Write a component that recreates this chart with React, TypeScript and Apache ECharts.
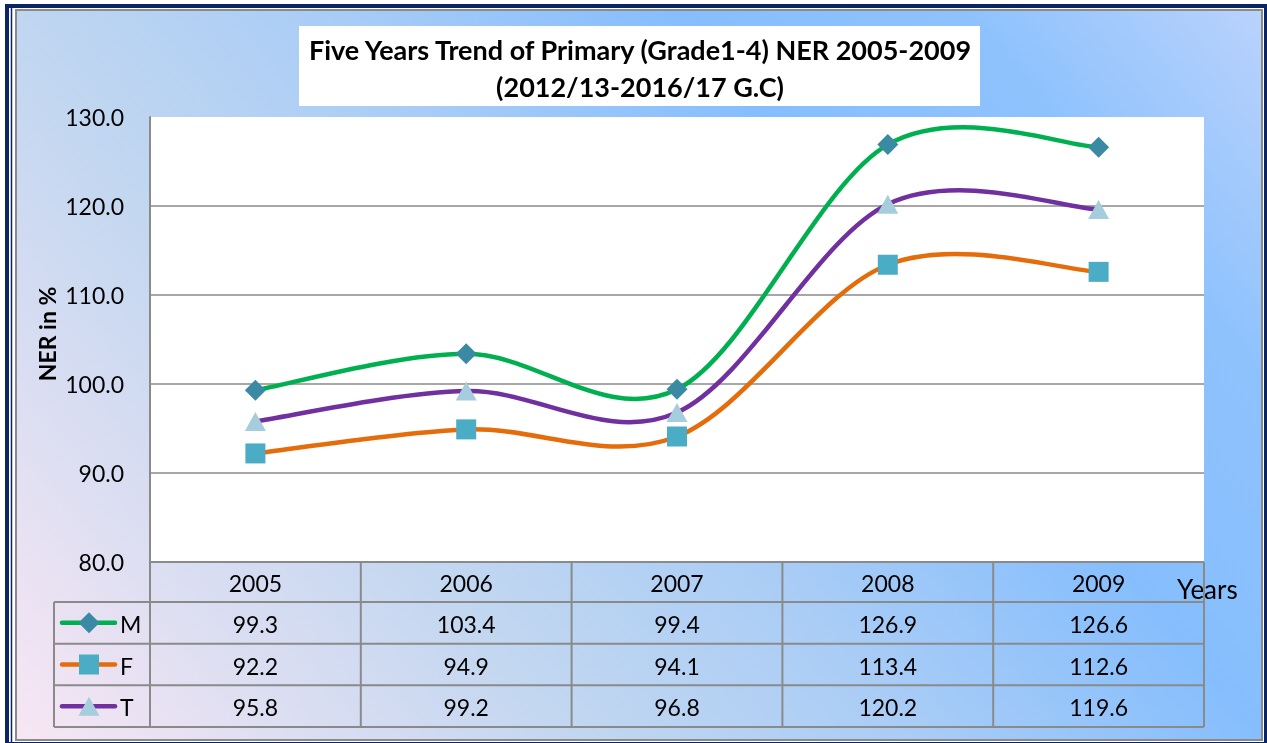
import React, { useEffect, useRef } from "react";
import * as echarts from "echarts";

const YEARS = ["2005", "2006", "2007", "2008", "2009"];
const M_VALUES = [99.3, 103.4, 99.4, 126.9, 126.6];
const F_VALUES = [92.2, 94.9, 94.1, 113.4, 112.6];
const T_VALUES = [95.8, 99.2, 96.8, 120.2, 119.6];
const Y_TICKS_MIN = 80;
const Y_TICKS_MAX = 130;
const Y_TICKS_INTERVAL = 10;
const TITLE_LINES = ["Five Years Trend of Primary (Grade1-4) NER 2005-2009", "(2012/13-2016/17 G.C)"];

const W = 1267;
const H = 743;
const GRID_L = 150;
const GRID_R = 1204;
const GRID_T = 117;
const GRID_B = 562;
const FONT = "Lato, 'Open Sans', sans-serif";
const GRAY = "#8a8a8a";

const STYLES = [
  { name: "M", values: M_VALUES, line: "#00b050", marker: "#3b8aa3", symbol: "diamond", size: [21, 21] },
  { name: "F", values: F_VALUES, line: "#e46c0a", marker: "#4bacc6", symbol: "rect", size: [20, 20] },
  { name: "T", values: T_VALUES, line: "#7030a0", marker: "#a6cddb", symbol: "triangle", size: [21, 19] },
];

function smoothPath(pts: number[][]) {
  const n = pts.length;
  let d = `M${pts[0][0]},${pts[0][1]}`;
  for (let i = 0; i < n - 1; i++) {
    const p0 = pts[Math.max(i - 1, 0)];
    const p1 = pts[i];
    const p2 = pts[i + 1];
    const p3 = pts[Math.min(i + 2, n - 1)];
    const c1x = p1[0] + (p2[0] - p0[0]) / 6;
    const c1y = p1[1] + (p2[1] - p0[1]) / 6;
    const c2x = p2[0] - (p3[0] - p1[0]) / 6;
    const c2y = p2[1] - (p3[1] - p1[1]) / 6;
    d += ` C${c1x},${c1y} ${c2x},${c2y} ${p2[0]},${p2[1]}`;
  }
  return d;
}

function markerShape(symbol: string, cx: number, cy: number, color: string) {
  if (symbol === "diamond") {
    return { type: "polygon", shape: { points: [[cx, cy - 10.5], [cx + 10.5, cy], [cx, cy + 10.5], [cx - 10.5, cy]] }, style: { fill: color } };
  }
  if (symbol === "rect") {
    return { type: "rect", shape: { x: cx - 10, y: cy - 10, width: 20, height: 20 }, style: { fill: color } };
  }
  return { type: "polygon", shape: { points: [[cx, cy - 9.5], [cx + 10.5, cy + 9.5], [cx - 10.5, cy + 9.5]] }, style: { fill: color } };
}

function buildGraphics() {
  const els: any[] = [];
  // frame
  els.push({ type: "rect", z: -20, shape: { x: 5, y: 4, width: W - 5, height: H - 4 }, style: { fill: "#0b2466" } });
  els.push({ type: "rect", z: -19, shape: { x: 9, y: 8, width: 1255, height: 734 }, style: { fill: "#ffffff" } });
  els.push({ type: "line", z: -18, shape: { x1: 11.5, y1: 8, x2: 11.5, y2: 742 }, style: { stroke: "#0b2466", lineWidth: 1.5 } });
  els.push({
    type: "rect",
    z: -17,
    shape: { x: 16, y: 10, width: 1246, height: 730 },
    style: {
      fill: new echarts.graphic.LinearGradient(0, 1, 1.2, 0.43, [
        { offset: 0, color: "#f8e6f4" },
        { offset: 0.3, color: "#c3d7f0" },
        { offset: 0.5, color: "#a8ccf6" },
        { offset: 0.68, color: "#86befd" },
        { offset: 0.84, color: "#8ec2fd" },
        { offset: 1, color: "#b9d2fc" },
      ]),
      stroke: GRAY,
      lineWidth: 2,
    },
  });
  // title
  els.push({ type: "rect", shape: { x: 299, y: 26, width: 681, height: 80 }, style: { fill: "#ffffff" } });
  TITLE_LINES.forEach((t, i) => {
    els.push({
      type: "text",
      x: 640,
      y: 49 + i * 37,
      style: { text: t, font: `bold 27px ${FONT}`, fill: "#000", textAlign: "center", textVerticalAlign: "middle" },
    });
  });
  // axis title
  els.push({
    type: "text",
    x: 47,
    y: 334,
    rotation: Math.PI / 2,
    style: { text: "NER in %", font: `bold 23px ${FONT}`, fill: "#000", textAlign: "center", textVerticalAlign: "middle" },
  });
  els.push({
    type: "text",
    x: 1177,
    y: 589,
    style: { text: "Years", font: `26px ${FONT}`, fill: "#000", textAlign: "left", textVerticalAlign: "middle" },
  });
  // data table
  const n = YEARS.length;
  const colW = (GRID_R - GRID_L) / n;
  const headerB = 602;
  const rowH = (727 - headerB) / 3;
  const legendL = 54;
  const lineStyle = { stroke: GRAY, lineWidth: 2 };
  els.push({ type: "line", shape: { x1: GRID_L, y1: GRID_B, x2: GRID_R, y2: GRID_B }, style: lineStyle });
  for (let r = 0; r <= 3; r++) {
    const y = headerB + r * rowH;
    els.push({ type: "line", shape: { x1: legendL, y1: y, x2: GRID_R, y2: y }, style: lineStyle });
  }
  els.push({ type: "line", shape: { x1: legendL, y1: headerB, x2: legendL, y2: headerB + 3 * rowH }, style: lineStyle });
  for (let c = 0; c <= n; c++) {
    const x = GRID_L + c * colW;
    els.push({ type: "line", shape: { x1: x, y1: GRID_B, x2: x, y2: headerB + 3 * rowH }, style: lineStyle });
  }
  YEARS.forEach((yr, c) => {
    els.push({
      type: "text",
      x: GRID_L + (c + 0.5) * colW,
      y: (GRID_B + headerB) / 2 + 1,
      style: { text: yr, font: `23px ${FONT}`, fill: "#000", textAlign: "center", textVerticalAlign: "middle" },
    });
  });
  STYLES.forEach((s, r) => {
    const cy = headerB + (r + 0.5) * rowH;
    s.values.forEach((v, c) => {
      els.push({
        type: "text",
        x: GRID_L + (c + 0.5) * colW,
        y: cy + 1,
        style: { text: v.toFixed(1), font: `23px ${FONT}`, fill: "#000", textAlign: "center", textVerticalAlign: "middle" },
      });
    });
    els.push({ type: "line", shape: { x1: 62, y1: cy, x2: 115, y2: cy }, style: { stroke: s.line, lineWidth: 4.5, lineCap: "round" } });
    els.push(markerShape(s.symbol, 89, cy, s.marker));
    els.push({
      type: "text",
      x: 120,
      y: cy + 1,
      style: { text: s.name, font: `23px ${FONT}`, fill: "#000", textAlign: "left", textVerticalAlign: "middle" },
    });
  });
  return els;
}

export default function App() {
  const ref = useRef<HTMLDivElement>(null);
  useEffect(() => {
    if (!ref.current) return;
    const chart = echarts.init(ref.current, undefined, { renderer: "svg" });
    const curveSeries = STYLES.map((s) => ({
      type: "custom",
      name: s.name + " curve",
      z: 2,
      silent: true,
      data: s.values.map((v, i) => [i, v]),
      encode: { x: 0, y: 1 },
      renderItem: (params: any, api: any) => {
        if (params.dataIndex !== 0) return null;
        const pts = s.values.map((v, i) => api.coord([i, v]));
        return {
          type: "path",
          shape: { pathData: smoothPath(pts) },
          style: { stroke: s.line, lineWidth: 4.5, fill: "none", lineCap: "round", lineJoin: "round" },
        };
      },
    }));
    const markerSeries = STYLES.map((s) => ({
      type: "line",
      name: s.name,
      z: 3,
      data: s.values,
      symbol: s.symbol,
      symbolSize: s.size,
      showSymbol: true,
      itemStyle: { color: s.marker, opacity: 1 },
      lineStyle: { opacity: 0, width: 0 },
    }));
    chart.setOption({
      animation: false,
      grid: {
        left: GRID_L,
        right: W - GRID_R,
        top: GRID_T,
        bottom: H - GRID_B,
        show: true,
        backgroundColor: "#ffffff",
        borderWidth: 0,
      },
      xAxis: {
        type: "category",
        data: YEARS,
        boundaryGap: true,
        axisLine: { show: false },
        axisTick: { show: false },
        axisLabel: { show: false },
        splitLine: { show: false },
      },
      yAxis: {
        type: "value",
        min: Y_TICKS_MIN,
        max: Y_TICKS_MAX,
        interval: Y_TICKS_INTERVAL,
        axisLine: { show: true, lineStyle: { color: GRAY, width: 2 } },
        axisTick: { show: false },
        axisLabel: {
          formatter: (v: number) => v.toFixed(1),
          fontSize: 23,
          fontFamily: FONT,
          color: "#000",
          margin: 26,
        },
        splitLine: {
          show: true,
          lineStyle: { color: [GRAY, GRAY, GRAY, GRAY, GRAY, "rgba(0,0,0,0)"], width: 1.5 },
        },
      },
      graphic: { elements: buildGraphics() },
      series: [...curveSeries, ...markerSeries],
    });
    return () => chart.dispose();
  }, []);
  return <div ref={ref} style={{ position: "fixed", left: 0, top: 0, width: W, height: H }} />;
}
